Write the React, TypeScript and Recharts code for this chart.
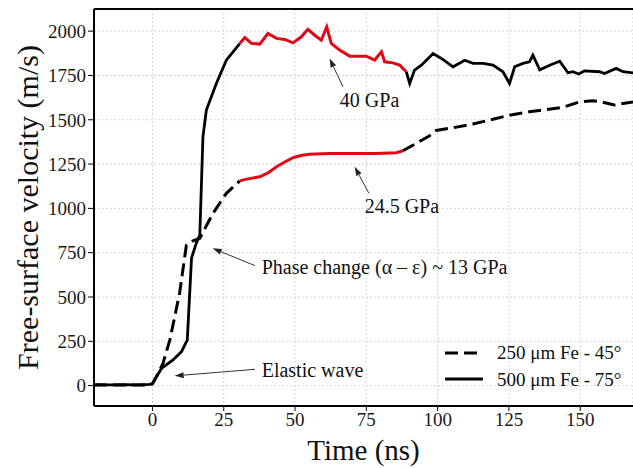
import React from 'react';
import {
  LineChart, Line, XAxis, YAxis, CartesianGrid, ReferenceLine, ReferenceDot, Legend,
} from 'recharts';

// 500 um Fe - 75 deg (solid)
const solidTime = [-20.5, -15, -10, -5, -1, 0, 3.2, 7.2, 10.2, 11.9, 12.2, 13.7, 15.4, 16.6, 17.7, 18.9, 22.4, 25.9,
  30.6, 32.4, 34.7, 37.6, 40.5, 43.5, 46.4, 49.3, 52.2, 54.5, 56.9, 59.2, 61.1, 62.7, 65.6, 69.2, 75, 77.9, 80.3, 81.4,
  84.3, 86.7, 89, 90.2, 91.9, 94.3, 98.4, 101.3, 105.4, 109.5, 112.4, 115.9, 119.4, 122.9, 125.2, 127, 129.9, 132.2,
  133.4, 135.8, 139.3, 142.8, 145.7, 147.4, 149.5, 151.5, 156.8, 158.5, 162.6, 165, 168.5];
const solidVel = [5, 4, 6, 4, 7, 12, 98, 145, 192, 248, 255, 720, 805, 850, 1404, 1555, 1705, 1836,
  1930, 1964, 1931, 1927, 1987, 1959, 1953, 1934, 1968, 2010, 1977, 1949, 2024, 1931, 1893, 1859, 1859, 1837, 1883, 1827,
  1821, 1808, 1771, 1705, 1780, 1808, 1874, 1846, 1799, 1836, 1818, 1818, 1808, 1771, 1705, 1799, 1818, 1827,
  1865, 1782, 1808, 1830, 1765, 1771, 1758, 1776, 1771, 1761, 1790, 1771, 1765];
const solidRed = [30.6, 89];

// 250 um Fe - 45 deg (dashed)
const dashTime = [-20.5, -10, -1, 0, 2.5, 3.7, 6.1, 7.8, 9.5, 11.9, 14, 16.6, 21.2, 25.9,
  30.6, 33, 37.6, 40.5, 43.5, 46.4, 49.3, 52, 55.1, 62, 70, 78, 85.5, 87.8,
  92.5, 97.2, 99.5, 105.4, 112.4, 117.1, 125.2, 132.2, 138.1, 143.9, 149.8, 154.4, 157.4, 162, 165, 168.5];
const dashVel = [3, 3, 4, 10, 85, 126, 258, 389, 520, 793, 815, 831, 972, 1085,
  1155, 1165, 1178, 1200, 1235, 1262, 1286, 1298, 1305, 1310, 1310, 1310, 1314, 1325,
  1367, 1410, 1440, 1455, 1476, 1494, 1526, 1545, 1558, 1570, 1601, 1607, 1601, 1583, 1592, 1601];
const dashRed = [30.6, 87.8];

const xTicks = [0, 25, 50, 75, 100, 125, 150];
const yTicks = [0, 250, 500, 750, 1000, 1250, 1500, 1750, 2000];
const xDomain = [-20.5, 168.5];
const yDomain = [-115, 2125];

const noteText = ['40 GPa', '24.5 GPa', 'Phase change (α – ε) ~ 13 GPa', 'Elastic wave'];
const noteAt = [[65.7, 1573], [74.4, 974], [38.3, 630], [38.3, 51]];
const arrowFrom = [[66.8, 1686], [75.9, 1085], [35.9, 677], [35.9, 92]];
const arrowTo = [[62.1, 1846], [70.9, 1235], [21.1, 775], [7.8, 55]];

const legendNames = ['250 μm Fe - 45°', '500 μm Fe - 75°'];

const FONT = '"Liberation Serif", "Times New Roman", serif';
const RED = '#e30613';

function toPoints(t: number[], v: number[]) {
  return t.map((x, i) => ({ t: x, v: v[i] }));
}

function split(t: number[], v: number[], red: number[]) {
  const pts = toPoints(t, v);
  return {
    before: pts.filter(p => p.t <= red[0]),
    red: pts.filter(p => p.t >= red[0] && p.t <= red[1]),
    after: pts.filter(p => p.t >= red[1]),
  };
}

const solid = split(solidTime, solidVel, solidRed);
const dashed = split(dashTime, dashVel, dashRed);

const Arrow = (props: any) => {
  const { x1, y1, x2, y2 } = props;
  const dx = x2 - x1;
  const dy = y2 - y1;
  const len = Math.sqrt(dx * dx + dy * dy) || 1;
  const ux = dx / len;
  const uy = dy / len;
  const hl = 9;
  const hw = 3;
  const bx = x2 - ux * hl;
  const by = y2 - uy * hl;
  return (
    <g>
      <line x1={x1} y1={y1} x2={bx} y2={by} stroke="#333" strokeWidth={1} />
      <polygon
        points={`${x2},${y2} ${bx - uy * hw},${by + ux * hw} ${bx + uy * hw},${by - ux * hw}`}
        fill="#222"
      />
    </g>
  );
};

const LegendBox = () => (
  <svg width={190} height={56}>
    <line x1={5} y1={13} x2={38} y2={13} stroke="#000" strokeWidth={3} strokeDasharray="13 6" />
    <text x={57} y={19} fontFamily={FONT} fontSize={19} fill="#111">{legendNames[0]}</text>
    <line x1={5} y1={39} x2={43} y2={39} stroke="#000" strokeWidth={3} />
    <text x={57} y={46} fontFamily={FONT} fontSize={19} fill="#111">{legendNames[1]}</text>
  </svg>
);

export default function App() {
  return (
    <div style={{ position: 'absolute', left: 0, top: 0, background: '#fff' }}>
      <LineChart width={633} height={468} margin={{ top: 9, right: 0, bottom: 0, left: 0 }}>
        <CartesianGrid stroke="#d4d4d4" strokeDasharray="2 2" />
        <XAxis
          dataKey="t"
          type="number"
          domain={xDomain}
          allowDataOverflow
          ticks={xTicks}
          height={62}
          axisLine={{ stroke: '#000', strokeWidth: 2 }}
          tickLine={{ stroke: '#000' }}
          tickSize={5}
          tick={{ fontFamily: FONT, fontSize: 19, fill: '#1a1a1a' }}
          label={{ value: 'Time (ns)', position: 'insideBottom', offset: 8, style: { fontFamily: FONT, fontSize: 29, fill: '#111' } }}
        />
        <YAxis
          type="number"
          domain={yDomain}
          allowDataOverflow
          ticks={yTicks}
          width={94}
          axisLine={{ stroke: '#000', strokeWidth: 2 }}
          tickLine={{ stroke: '#000' }}
          tickSize={6}
          tick={{ fontFamily: FONT, fontSize: 19, fill: '#1a1a1a' }}
          label={({ viewBox }: any) => {
            const x = viewBox.x + 27;
            const y = viewBox.y + viewBox.height / 2;
            return (
              <text x={x} y={y} transform={`rotate(-90, ${x}, ${y})`} textAnchor="middle" dominantBaseline="central"
                fontFamily={FONT} fontSize={30} fill="#111">
                Free-surface velocity (m/s)
              </text>
            );
          }}
        />
        <ReferenceLine y={yDomain[1]} stroke="#000" strokeWidth={2} />

        <Line data={dashed.before} dataKey="v" type="linear" stroke="#000" strokeWidth={3} strokeDasharray="13 6" dot={false} isAnimationActive={false} name="d1" />
        <Line data={dashed.after} dataKey="v" type="linear" stroke="#000" strokeWidth={3} strokeDasharray="13 6" dot={false} isAnimationActive={false} name="d2" />
        <Line data={solid.before} dataKey="v" type="linear" stroke="#000" strokeWidth={2.8} dot={false} isAnimationActive={false} name="s1" />
        <Line data={solid.after} dataKey="v" type="linear" stroke="#000" strokeWidth={2.8} dot={false} isAnimationActive={false} name="s2" />
        <Line data={dashed.red} dataKey="v" type="linear" stroke={RED} strokeWidth={3} dot={false} isAnimationActive={false} name="dr" />
        <Line data={solid.red} dataKey="v" type="linear" stroke={RED} strokeWidth={3} dot={false} isAnimationActive={false} name="sr" />

        {noteText.map((txt, i) => (
          <ReferenceLine
            key={'a' + i}
            segment={[{ x: arrowFrom[i][0], y: arrowFrom[i][1] }, { x: arrowTo[i][0], y: arrowTo[i][1] }]}
            shape={Arrow}
          />
        ))}
        {noteText.map((txt, i) => (
          <ReferenceDot
            key={'t' + i}
            x={noteAt[i][0]}
            y={noteAt[i][1]}
            r={0}
            shape={(p: any) => (
              <text x={p.cx} y={p.cy} fontFamily={FONT} fontSize={20} fill="#111">{txt}</text>
            )}
          />
        ))}

        <Legend
          layout="horizontal"
          verticalAlign="middle"
          align="center"
          content={() => <LegendBox />}
          wrapperStyle={{ left: 440, top: 340, width: 190, height: 56 }}
        />
      </LineChart>
    </div>
  );
}
